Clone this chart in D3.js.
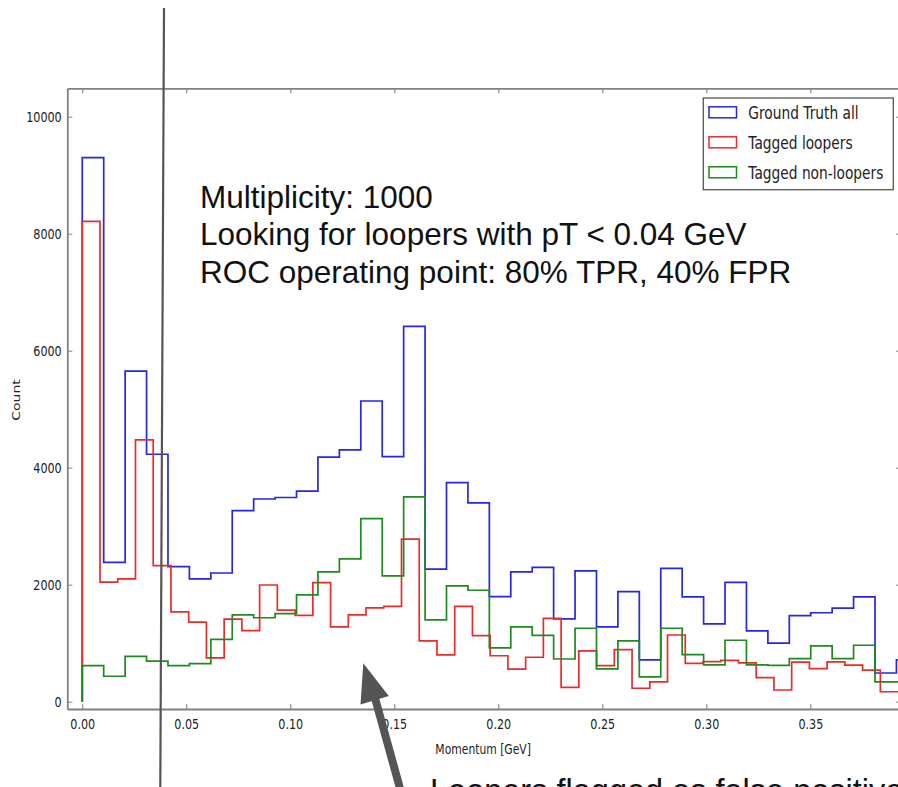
<!DOCTYPE html>
<html>
<head>
<meta charset="utf-8">
<script src="https://cdn.jsdelivr.net/npm/d3@7"></script>
<style>
  html, body { margin: 0; padding: 0; background: #fff; overflow: hidden; }
  svg { display: block; }
</style>
</head>
<body>
<svg id="chart" width="898" height="787"></svg>
<script>
// Momentum histograms (counts per bin). Every series starts at 0 GeV;
// the tagged-loopers series was binned more finely than the other two.
const truthBinWidth = 0.0103;
const looperBinWidth = 0.008526;

const truthAll = [
  9300, 2380, 5650, 4230, 2310, 2100, 2200, 3265, 3465, 3490,
  3600, 4180, 4305, 5140, 4190, 6415, 2265, 3745, 3400, 1795,
  2220, 2295, 1415, 2235, 1280, 1880, 715, 2280, 1790, 1330,
  2040, 1210, 1000, 1470, 1520, 1600, 1790, 490, 715
];

const taggedLoopers = [
  8210, 2045, 2100, 4475, 2325, 1535, 1360, 750, 1410, 1215,
  1995, 1565, 1475, 2035, 1280, 1485, 1605, 1630, 2780, 1040,
  800, 1630, 1130, 785, 555, 760, 1425, 245, 870, 615,
  890, 230, 340, 1140, 655, 685, 705, 665, 410, 200,
  675, 565, 680, 625, 540, 170, 170
];

const taggedNonLoopers = [
  615, 435, 775, 695, 615, 650, 1065, 1485, 1435, 1505,
  1825, 2220, 2440, 3130, 2150, 3500, 1400, 1980, 1905, 920,
  1280, 1135, 730, 1255, 560, 1040, 425, 1255, 805, 630,
  1050, 630, 620, 735, 955, 735, 965, 340, 340
];

const seriesNames = ["Ground Truth all", "Tagged loopers", "Tagged non-loopers"];
const xTickValues = [0.00, 0.05, 0.10, 0.15, 0.20, 0.25, 0.30, 0.35];
const yTickValues = [0, 2000, 4000, 6000, 8000, 10000];
const xLabel = "Momentum [GeV]";
const yLabel = "Count";
const noteLines = [
  "Multiplicity: 1000",
  "Looking for loopers with pT < 0.04 GeV",
  "ROC operating point: 80% TPR, 40% FPR"
];
const bottomNote = "Loopers flagged as false positives";

// ---- layout ----
const W = 898, H = 787;
const plot = { left: 67.3, right: 901, top: 88.3, bottom: 709 };
const colors = ["#2626e8", "#ec2a2a", "#1f8a1f"];
const squeeze = 0.77;           // narrow tick / legend lettering
const tickFont = "'DejaVu Sans', sans-serif";
const noteFont = "'Liberation Sans', Arial, sans-serif";

const svg = d3.select("#chart");

const x = d3.scaleLinear().domain([-0.0072, 0.3936]).range([plot.left, plot.right]);
const y = d3.scaleLinear().domain([-125, 10485]).range([plot.bottom, plot.top]);

svg.append("defs").append("clipPath").attr("id", "plotClip")
  .append("rect")
  .attr("x", plot.left).attr("y", plot.top)
  .attr("width", plot.right - plot.left).attr("height", plot.bottom - plot.top);

// ---- step outlines ----
function stepPoints(values, width) {
  const pts = [[0, 0]];
  values.forEach((v, i) => {
    pts.push([i * width, v]);
    pts.push([(i + 1) * width, v]);
  });
  pts.push([values.length * width, 0]);
  return pts;
}

const line = d3.line().x(d => x(d[0])).y(d => y(d[1]));
const series = [
  { values: truthAll, width: truthBinWidth },
  { values: taggedLoopers, width: looperBinWidth },
  { values: taggedNonLoopers, width: truthBinWidth }
];

const marks = svg.append("g").attr("clip-path", "url(#plotClip)");
series.forEach((s, i) => {
  marks.append("path")
    .attr("d", line(stepPoints(s.values, s.width)))
    .attr("fill", "none")
    .attr("stroke", colors[i])
    .attr("stroke-width", 1.7)
    .attr("stroke-linejoin", "miter");
});

// ---- axes (ticks pointing into the plot) ----
function styleAxis(g) {
  g.select(".domain").attr("stroke", "#808080").attr("stroke-width", 1.8);
  g.selectAll(".tick line").attr("stroke", "#808080").attr("stroke-width", 1);
}

const xAxis = svg.append("g")
  .attr("transform", `translate(0,${plot.bottom})`)
  .call(d3.axisBottom(x).tickValues(xTickValues).tickFormat(d3.format(".2f"))
    .tickSizeInner(-5).tickSizeOuter(0));
styleAxis(xAxis);
xAxis.selectAll("text")
  .attr("y", 20).attr("dy", null)
  .attr("transform", `scale(${squeeze},1)`)
  .style("font-family", tickFont).style("font-size", "14.5px").attr("fill", "#222");

const yAxis = svg.append("g")
  .attr("transform", `translate(${plot.left},0)`)
  .call(d3.axisLeft(y).tickValues(yTickValues).tickFormat(d3.format("d"))
    .tickSizeInner(-5).tickSizeOuter(0));
styleAxis(yAxis);
yAxis.selectAll("text")
  .attr("x", -5.6 / squeeze).attr("dy", "0.36em")
  .attr("transform", `scale(${squeeze},1)`)
  .style("font-family", tickFont).style("font-size", "14.5px").attr("fill", "#222");

const topAxis = svg.append("g")
  .attr("transform", `translate(0,${plot.top})`)
  .call(d3.axisTop(x).tickValues(xTickValues).tickFormat("")
    .tickSizeInner(-5).tickSizeOuter(0));
styleAxis(topAxis);

const rightAxis = svg.append("g")
  .attr("transform", `translate(${plot.right},0)`)
  .call(d3.axisRight(y).tickValues(yTickValues).tickFormat("")
    .tickSizeInner(-5).tickSizeOuter(0));
styleAxis(rightAxis);

// axis titles
svg.append("text")
  .attr("transform", `translate(${(plot.left + plot.right) / 2 - 1},754) scale(${squeeze},1)`)
  .attr("text-anchor", "middle")
  .style("font-family", tickFont).style("font-size", "14px").attr("fill", "#222")
  .text(xLabel);

svg.append("text")
  .attr("transform", `translate(20,400) rotate(-90) scale(1,${squeeze})`)
  .attr("text-anchor", "middle")
  .style("font-family", tickFont).style("font-size", "14px").attr("fill", "#222")
  .text(yLabel);

// ---- legend ----
const legend = svg.append("g");
legend.append("rect")
  .attr("x", 703.3).attr("y", 98).attr("width", 190).attr("height", 91.7)
  .attr("fill", "#fff").attr("stroke", "#555").attr("stroke-width", 1.3);
seriesNames.forEach((name, i) => {
  const cy = 112.3 + i * 30;
  legend.append("rect")
    .attr("x", 709).attr("y", cy - 5.5).attr("width", 27.5).attr("height", 11)
    .attr("fill", "none").attr("stroke", colors[i]).attr("stroke-width", 1.5);
  legend.append("text")
    .attr("transform", `translate(748.3,${cy + 6.2}) scale(0.81,1)`)
    .style("font-family", tickFont).style("font-size", "17px").attr("fill", "#222")
    .text(name);
});

// ---- annotations drawn over the chart ----
const notes = svg.append("g");
notes.append("line")
  .attr("x1", 164).attr("y1", 8).attr("x2", 160.3).attr("y2", 787)
  .attr("stroke", "#555").attr("stroke-width", 2.2);

noteLines.forEach((t, i) => {
  notes.append("text")
    .attr("x", 200).attr("y", 207.5 + i * 37.5)
    .style("font-family", noteFont)
    .style("font-size", "31.5px").attr("fill", "#111")
    .text(t);
});

// arrow pointing at the tagged loopers above the cut
notes.append("line")
  .attr("x1", 375).attr("y1", 698).attr("x2", 401).attr("y2", 792)
  .attr("stroke", "#555").attr("stroke-width", 8);
notes.append("path")
  .attr("d", "M363.3,663.3 L360.5,704.5 L388.8,696 Z")
  .attr("fill", "#555");

// caption running off the bottom edge
notes.append("text")
  .attr("x", 430).attr("y", 802)
  .style("font-family", noteFont)
  .style("font-size", "32.5px").attr("fill", "#111")
  .text(bottomNote);
</script>
</body>
</html>
